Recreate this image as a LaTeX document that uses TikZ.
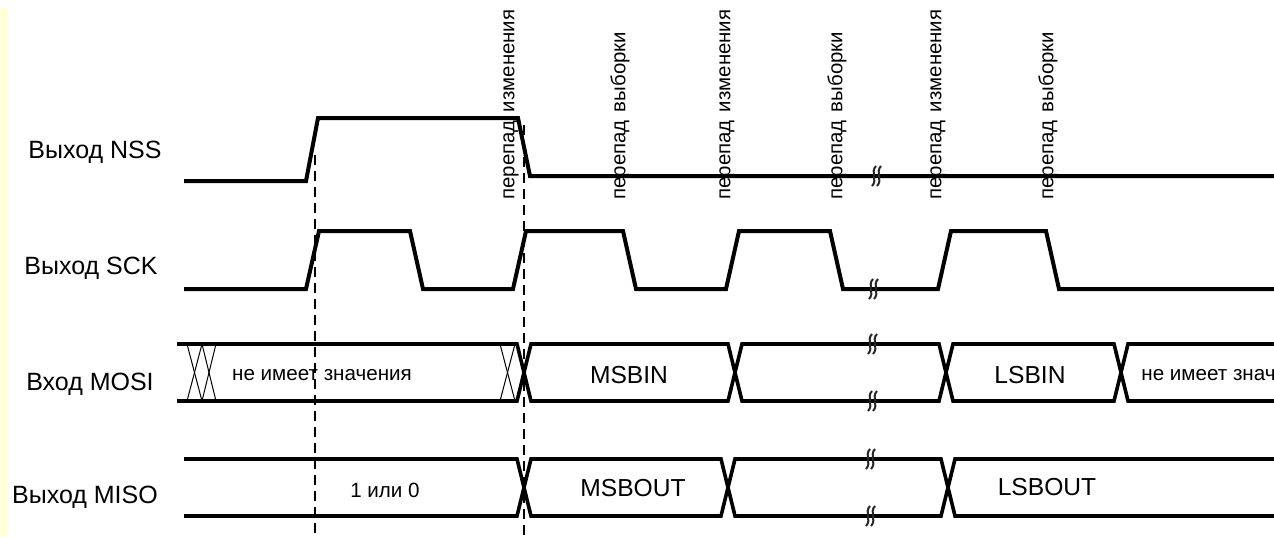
\documentclass[tikz,border=0pt]{standalone}
\usepackage{fontspec}
\setmainfont{Liberation Sans}
\usetikzlibrary{positioning}
\definecolor{stripyellow}{RGB}{255,255,215}

\begin{document}
\begin{tikzpicture}[x=0.5pt,y=-0.5pt,
  wave/.style={line width=2pt, line join=miter},
  bus/.style={line width=1.8pt, line join=miter},
  hatch/.style={line width=0.5pt},
  guide/.style={line width=0.7pt, dash pattern=on 5pt off 3pt},
  brk/.style={line width=1pt, black!85},
  signame/.style={font=\fontsize{12.5}{15}\selectfont},
  busval/.style={font=\fontsize{12.3}{15}\selectfont},
  smallval/.style={font=\fontsize{10.3}{12}\selectfont},
  edgetxt/.style={font=\fontsize{10.2}{12}\selectfont, rotate=90, anchor=west, inner sep=0pt}]
\useasboundingbox (0,0) rectangle (1274,537);
\fill[stripyellow] (0,8) rectangle (8,537);

% signal names
\node[signame] (nss) at (95,152) {Выход NSS};
\node[signame] (sck) at (91,268) {Выход SCK};
\node[signame] (mosi) at (90,384) {Вход MOSI};
\node[signame] (miso) at (85,497) {Выход MISO};

% edge names
\foreach \ex/\et/\nm in {511/изменения/ch1, 620/выборки/sm1, 727/изменения/ch2,
                         837/выборки/sm2, 938/изменения/ch3, 1048/выборки/sm3}
  \node[edgetxt] (\nm) at (\ex,200) {перепад\hspace{0.4em}\et};

% NSS and SCK
\draw[wave] (184,181) -- (306,181) -- (318,118) -- (518,118) -- (530,176) -- (1274,176);
\draw[wave] (184,289) -- (306,289) -- (319,231) -- (410,231) -- (423,289) -- (513,289)
  -- (526,231) -- (623,231) -- (636,289) -- (726,289) -- (739,231) -- (830,231)
  -- (843,289) -- (938,289) -- (951,231) -- (1046,231) -- (1059,289) -- (1274,289);

% MOSI
\draw[bus] (177,344) -- (517,344) -- (531,401) -- (728,401) -- (742,344) -- (939,344)
  -- (953,401) -- (1114,401) -- (1128,344) -- (1274,344);
\draw[bus] (177,401) -- (517,401) -- (531,344) -- (728,344) -- (742,401) -- (939,401)
  -- (953,344) -- (1114,344) -- (1128,401) -- (1274,401);
\foreach \a/\b in {187/202, 202/216, 500/515} {
  \draw[hatch] (\a,344) -- (\b,401);
  \draw[hatch] (\b,344) -- (\a,401);
}

% MISO
\draw[bus] (184,459) -- (517,459) -- (531,516) -- (721,516) -- (735,459) -- (941,459)
  -- (955,516) -- (1274,516);
\draw[bus] (184,516) -- (517,516) -- (531,459) -- (721,459) -- (735,516) -- (941,516)
  -- (955,459) -- (1274,459);

% breaks
\foreach \bx/\by in {876/176, 873/289, 872/344, 872/401, 870/459, 870/516}
  \foreach \dx in {0,5}
    \draw[brk] (\bx+\dx-4,\by+10) .. controls (\bx+\dx+2,\by+4) and (\bx+\dx-6,\by-4) .. (\bx+\dx,\by-10);

% timing guides
\draw[guide] (315,155) -- (315,537);
\draw[guide] (524,125) -- (524,537);

% values
\node[smallval] (dcin) at (322,375) {не имеет значения};
\node[busval] (msbin) at (629,375) {MSBIN};
\node[busval] (lsbin) at (1030,375) {LSBIN};
\node[smallval, anchor=west, inner sep=0pt] (dcend) at (1141,375) {не имеет знач};
\node[smallval] (bit) at (385,490) {1 или 0};
\node[busval] (msbout) at (633,488) {MSBOUT};
\node[busval] (lsbout) at (1047,487) {LSBOUT};
\end{tikzpicture}
\end{document}
